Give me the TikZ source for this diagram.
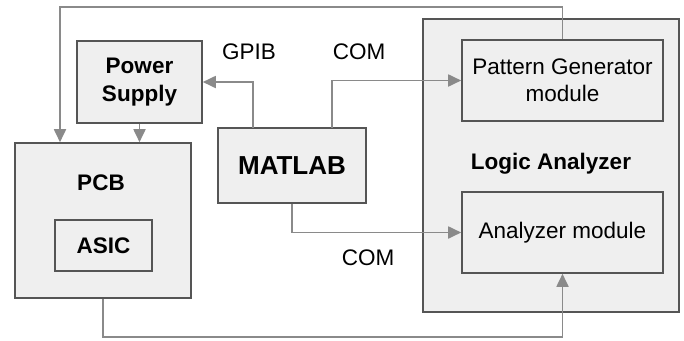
\documentclass[tikz,border=0pt]{standalone}
\usepackage{fontspec}
\setmainfont{Liberation Sans}
\usetikzlibrary{arrows.meta}
\definecolor{boxfill}{HTML}{EFEFEF}
\definecolor{boxline}{HTML}{555555}
\definecolor{wire}{HTML}{8A8A8A}
\begin{document}
\begin{tikzpicture}[x=1pt,y=-1pt,
  blk/.style={draw=boxline,fill=boxfill,line width=1.6pt,inner sep=0pt,align=center,font=\fontsize{22.5}{27}\selectfont},
  bbl/.style={blk,font=\fontsize{22.5}{27.5}\selectfont\bfseries},
  wirel/.style={draw=wire,line width=1.8pt},
  arr/.style={wirel,-{Triangle[length=13pt,width=12pt]}},
  lbl/.style={font=\fontsize{22.5}{26}\selectfont,inner sep=0pt}]
\useasboundingbox (0,0) rectangle (684,340);
\fill[white] (0,0) rectangle (684,340);
% boxes
\node[blk,minimum width=256pt,minimum height=293pt] (la) at (551,165.5) {};
\node[bbl,draw=none,fill=none] (latext) at (551,164) {Logic Analyzer};
\node[blk,minimum width=201pt,minimum height=81pt] (pg) at (562.5,80.5) {Pattern Generator\\module};
\node[blk,minimum width=201pt,minimum height=81pt] (am) at (562.5,232.5) {Analyzer module};
\node[bbl,minimum width=125pt,minimum height=82pt] (ps) at (139.5,82) {Power\\Supply};
\node[blk,minimum width=176pt,minimum height=155pt] (pcb) at (103,220.5) {};
\node[bbl,draw=none,fill=none] (pcbtext) at (101,183) {PCB};
\node[bbl,minimum width=97pt,minimum height=51pt] (asic) at (103.5,245.5) {ASIC};
\node[blk,minimum width=148pt,minimum height=75pt,font=\fontsize{26}{30}\selectfont\bfseries] (matlab) at (292,165.5) {MATLAB};
% labels
\node[lbl] (gpib) at (249,52) {GPIB};
\node[lbl] (com1) at (359,52) {COM};
\node[lbl] (com2) at (368,258) {COM};
% coordinates
\coordinate (topR) at (562.5,7);
\coordinate (topL) at (60,7);
\coordinate (bot) at (103,337);
\coordinate (mg) at (253,128);
\coordinate (mc) at (332,128);
% connectors
\draw[arr] (pg.north) -- (topR) -- (topL) -- (topL |- pcb.north);
\draw[arr] (ps.south) -- (pcb.north -| ps.south);
\draw[arr] (mg) |- (ps.east);
\draw[arr] (mc) |- (pg.west);
\draw[arr] (matlab.south) |- (am.west);
\draw[arr] (pcb.south) -- (bot) -| (am.south);
\end{tikzpicture}
\end{document}
